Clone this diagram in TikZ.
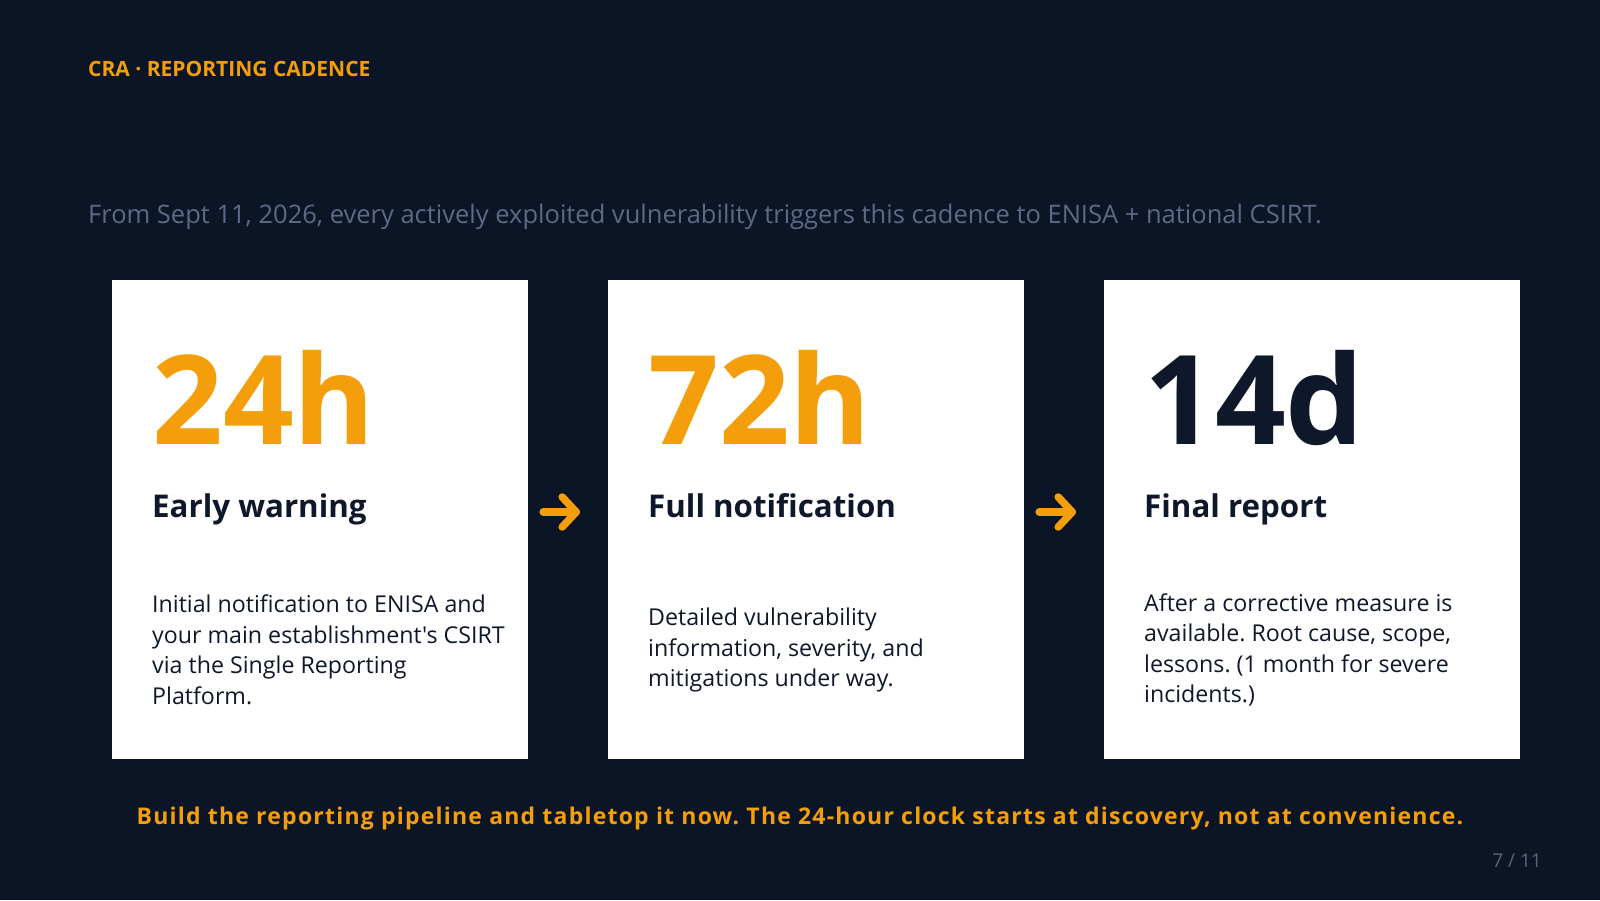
\documentclass[tikz,border=0pt]{standalone}
\usepackage{fontspec}
\setmainfont{Open Sans}[Ligatures=TeXOff]
\newfontfamily\footfont{Open Sans}[LetterSpace=5.3,Ligatures=TeXOff]
\usetikzlibrary{calc}
\definecolor{bgc}{HTML}{0B1526}
\definecolor{amber}{HTML}{F59E0B}
\definecolor{inkc}{HTML}{0F172A}
\definecolor{subc}{HTML}{5B6B86}
\definecolor{pagec}{HTML}{5A6478}
\tikzset{
  card/.style={fill=white, draw=none, minimum width=416pt, minimum height=479pt, inner sep=0pt},
  bignum/.style={anchor=base west, inner sep=0pt, font=\fontsize{124}{124}\bfseries\selectfont},
  cardtitle/.style={anchor=base west, inner sep=0pt, text=inkc, font=\fontsize{31.3}{36}\bfseries\selectfont},
  body/.style={anchor=west, inner sep=0pt, text=inkc, align=left, font=\fontsize{23.2}{30.5}\selectfont},
  arr/.style={draw=amber, line width=7.5pt, line cap=round, line join=round},
}
\begin{document}
\frenchspacing
\begin{tikzpicture}[x=1pt,y=-1pt]
\fill[bgc] (0,0) rectangle (1600,900);
\useasboundingbox (0,0) rectangle (1600,900);

\node[anchor=base west, inner sep=0pt, text=amber, font=\fontsize{21}{24}\bfseries\selectfont] (head) at (88,76) {CRA · REPORTING CADENCE};
\node[anchor=base west, inner sep=0pt, text=subc, font=\fontsize{25.5}{28}\selectfont] (sub) at (88,223) {From Sept 11, 2026, every actively exploited vulnerability triggers this cadence to ENISA + national CSIRT.};

\node[card] (c1) at (320,519.5) {};
\node[card] (c2) at (816,519.5) {};
\node[card] (c3) at (1312,519.5) {};

\node[bignum, text=amber] (n1) at (152,444) {24h};
\node[bignum, text=amber] (n2) at (648,444) {72h};
\node[bignum, text=inkc] (n3) at (1144,444) {14d};

\node[cardtitle] (t1) at (152,517) {Early warning};
\node[cardtitle] (t2) at (648,517) {Full notification};
\node[cardtitle] (t3) at (1144,517) {Final report};

\node[body] (b1) at (152,650) {Initial notification to ENISA and\\your main establishment's CSIRT\\via the Single Reporting\\Platform.};
\node[body] (b2) at (648,650) {Detailed vulnerability\\information, severity, and\\mitigations under way.};
\node[body] (b3) at (1144,650) {After a corrective measure is\\available. Root cause, scope,\\lessons. (1 month for severe\\incidents.)};

\coordinate (a1s) at ($(c1.east)+(15,-7.5)$);
\coordinate (a1e) at ($(c1.east)+(48,-7.5)$);
\coordinate (a2s) at ($(c2.east)+(15,-7.5)$);
\coordinate (a2e) at ($(c2.east)+(48,-7.5)$);
\draw[arr] (a1s) -- (a1e);
\draw[arr] ($(a1e)+(-14,-15)$) -- (a1e) -- ($(a1e)+(-14,15)$);
\draw[arr] (a2s) -- (a2e);
\draw[arr] ($(a2e)+(-14,-15)$) -- (a2e) -- ($(a2e)+(-14,15)$);

\node[anchor=base, inner sep=0pt, text=amber, font=\footfont\fontsize{23}{26}\bfseries\selectfont] (foot) at (800,824) {Build the reporting pipeline and tabletop it now. The 24-hour clock starts at discovery, not at convenience.};
\node[anchor=base east, inner sep=0pt, text=pagec, font=\fontsize{19}{21}\selectfont] (pg) at (1542,867) {7 / 11};
\end{tikzpicture}
\end{document}
